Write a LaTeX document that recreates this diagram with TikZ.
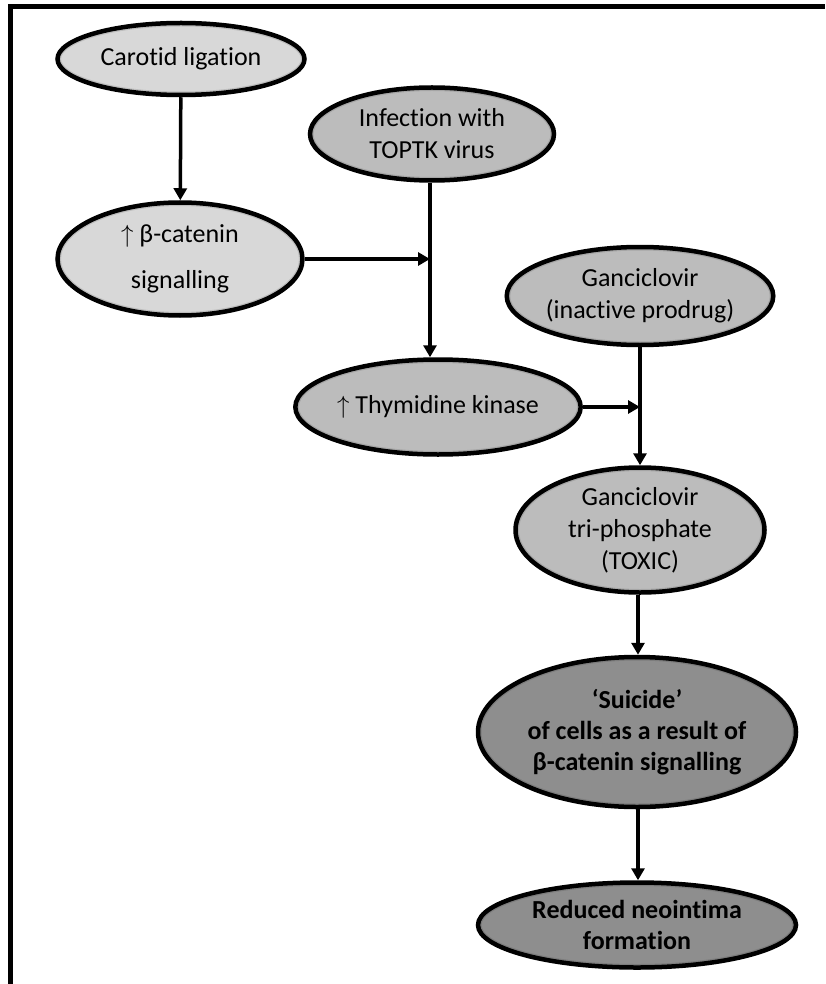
\documentclass[tikz,border=0pt]{standalone}
\usepackage{fontspec}
\setmainfont{Carlito}[Ligatures=CommonOff, RawFeature={-liga;-calt;-dlig;-clig}]
\usetikzlibrary{shapes.geometric,arrows.meta,calc}
\definecolor{lightfill}{HTML}{D8D8D8}
\definecolor{midfill}{HTML}{BCBCBC}
\definecolor{darkfill}{HTML}{8E8E8E}
\begin{document}
\begin{tikzpicture}[x=1pt,y=-1pt,
  bevel/.style={path picture={
      \path let \p1=(path picture bounding box.north east),
                \p2=(path picture bounding box.center) in
        [draw=black, opacity=0.10, line width=14pt] (\p2) ellipse [x radius=\x1-\x2, y radius=\y1-\y2]
        [draw=black, opacity=0.12, line width=7pt] (\p2) ellipse [x radius=\x1-\x2, y radius=\y1-\y2];
    }},
  oval/.style={ellipse, draw=black, line width=4.5pt, inner sep=0pt, align=center, bevel,
    font=\fontsize{26}{32}\selectfont},
  lightoval/.style={oval, fill=lightfill},
  midoval/.style={oval, fill=midfill},
  darkoval/.style={oval, fill=darkfill, font=\fontsize{26}{31}\selectfont\bfseries},
  arr/.style={line width=3.5pt, -{Triangle[length=12pt,width=13pt]}},
  frame/.style={line width=5pt}]
\useasboundingbox (0,0) rectangle (825,984);
\draw[frame] (10.5,984) -- (10.5,6.5) -- (825,6.5);

\node[lightoval, minimum width=247, minimum height=72] (car) at (181,59) {Carotid ligation};
\node[lightoval, minimum width=245, minimum height=113] (bcat) at (180,259) {$\uparrow$ β-catenin\\[14pt]signalling};
\node[midoval, minimum width=244, minimum height=93] (inf) at (432,134) {Infection with\\TOPTK virus};
\node[midoval, minimum width=247, minimum height=98] (gan) at (640,296) {Ganciclovir\\(inactive prodrug)};
\node[midoval, minimum width=265, minimum height=95] (tk) at (438,407) {$\uparrow$ Thymidine kinase};
\node[midoval, minimum width=249, minimum height=125] (gtp) at (640,530) {Ganciclovir\\tri-phosphate\\(TOXIC)};
\node[darkoval, minimum width=318, minimum height=150] (sui) at (637,732) {‘Suicide’\\of cells as a result of\\β-catenin signalling};
\node[darkoval, minimum width=318, minimum height=85] (red) at (637,925) {Reduced neointima\\formation};

\draw[arr] (car) -- (bcat);
\draw[arr] (inf.south -| 430,0) -- (tk.north -| 430,0);
\draw[arr] (bcat.east) -- (bcat.east -| 430,0);
\draw[arr] (gan.south) -- (gtp.north);
\draw[arr] (tk.east) -- (tk.east -| gan.south);
\draw[arr] (gtp.south -| 638,0) -- (sui.north -| 638,0);
\draw[arr] (sui.south -| 638,0) -- (red.north -| 638,0);
\end{tikzpicture}
\end{document}
